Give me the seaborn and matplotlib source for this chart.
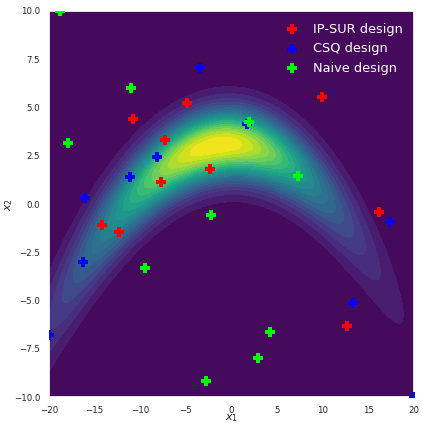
import numpy as np
import matplotlib
matplotlib.use("Agg")
import matplotlib.pyplot as plt
import seaborn as sns

# ---- design points ----
ipsur_x1 = [-4.9, -10.8, -7.25, -2.32, -7.69, -14.2, -12.3, 9.92, 16.2, 12.62]
ipsur_x2 = [5.22, 4.40, 3.32, 1.80, 1.16, -1.10, -1.45, 5.56, -0.43, -6.34]

csq_x1 = [-3.45, -8.2, -11.16, -16.1, -16.24, -20.0, 1.73, 17.37, 13.35, 20.0]
csq_x2 = [7.03, 2.42, 1.38, 0.31, -2.99, -6.8, 4.14, -0.92, -5.15, -10.0]

naive_x1 = [-18.8, -11.0, -17.9, 1.95, 7.32, -2.21, -9.48, 4.22, 2.94, -2.76]
naive_x2 = [10.0, 6.0, 3.18, 4.23, 1.43, -0.57, -3.33, -6.65, -7.98, -9.17]

labels = ["IP-SUR design", "CSQ design", "Naive design"]
colors = ["#ff0000", "#0000ff", "#00ff00"]

# ---- banana-shaped density parameters (estimated) ----
ridge_top = 3.1
curv_left = 0.023
curv_right = 0.025
peak_x1 = -1.5
spread_left = 9.5
spread_right = 8.3
width_x2 = 1.22
width_growth = 0.05

x1_lim = (-20, 20)
x2_lim = (-10, 10)

sns.set_theme(style="darkgrid")
plt.rcParams['font.family'] = ['DejaVu Sans']

fig = plt.figure(figsize=(4.22, 4.23), dpi=100)
ax = fig.add_axes([49 / 422, 1 - 397 / 423, (414 - 49) / 422, (397 - 11) / 423])

g1 = np.linspace(x1_lim[0], x1_lim[1], 400)
g2 = np.linspace(x2_lim[0], x2_lim[1], 400)
X1, X2 = np.meshgrid(g1, g2)
spread = np.where(X1 < peak_x1, spread_left, spread_right)
curv = np.where(X1 < 0, curv_left, curv_right)
centre = ridge_top - curv * X1 ** 2
local_w = width_x2 * np.sqrt(1 + (width_growth * X1) ** 2)
Z = np.exp(-(X1 - peak_x1) ** 2 / (2 * spread ** 2)) * \
    np.exp(-(X2 - centre) ** 2 / (2 * local_w ** 2))

ax.contourf(X1, X2, Z, levels=20, cmap="viridis", zorder=1)

series = [(ipsur_x1, ipsur_x2), (csq_x1, csq_x2), (naive_x1, naive_x2)]
for (xs, ys), lab, col in zip(series, labels, colors):
    sns.scatterplot(x=xs, y=ys, ax=ax, marker="P", s=60, color=col,
                    linewidth=0, label=lab, zorder=3)

ax.set_xlim(*x1_lim)
ax.set_ylim(*x2_lim)
ax.set_xlabel("$x_1$", fontsize=8)
ax.set_ylabel("$x_2$", fontsize=8)
ax.xaxis.set_label_coords(0.5, -0.04)
ax.yaxis.set_label_coords(-0.093, 0.5)
ax.tick_params(labelsize=6.2, pad=0.4)

leg = ax.legend(loc="upper right", frameon=False, fontsize=9.3,
                labelcolor="white", handletextpad=0.6)

fig.savefig("out.png", dpi=100)
